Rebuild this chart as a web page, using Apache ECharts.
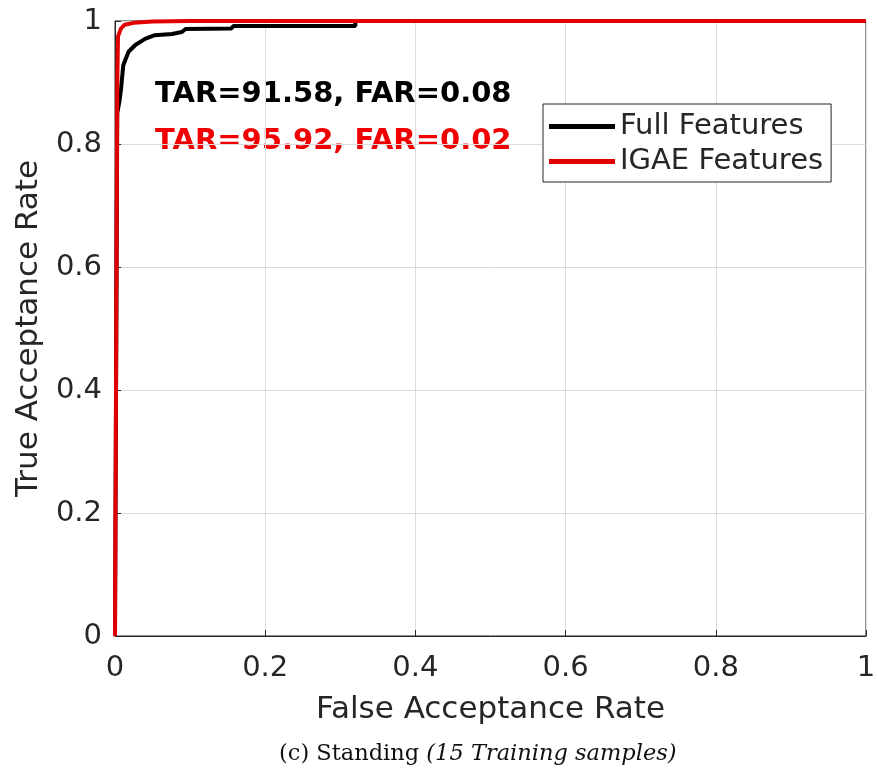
<!DOCTYPE html>
<html>
<head>
<meta charset="utf-8">
<script src="https://cdn.jsdelivr.net/npm/echarts@6/dist/echarts.min.js"></script>
<style>
html,body{margin:0;padding:0;background:#fff;}
#chart{width:877px;height:773px;}
</style>
</head>
<body>
<div id="chart"></div>
<script>
// ROC curves: false acceptance rate (x) vs true acceptance rate (y)
const seriesNames = ['Full Features', 'IGAE Features'];
const fullFar = [0, 0.002, 0.003, 0.006, 0.008, 0.011, 0.018, 0.027, 0.040, 0.053, 0.076, 0.089, 0.094, 0.155, 0.158, 0.320, 0.320, 1];
const fullTar = [0, 0.000, 0.850, 0.870, 0.889, 0.928, 0.950, 0.961, 0.971, 0.977, 0.979, 0.982, 0.987, 0.988, 0.992, 0.992, 1.000, 1];
const igaeFar = [0, 0.002, 0.003, 0.004, 0.008, 0.013, 0.025, 0.050, 0.100, 1];
const igaeTar = [0, 0.000, 0.900, 0.975, 0.988, 0.994, 0.997, 0.999, 1.000, 1];
const tickValues = [0, 0.2, 0.4, 0.6, 0.8, 1];
const noteFull = 'TAR=91.58, FAR=0.08';
const noteIgae = 'TAR=95.92, FAR=0.02';
const xName = 'False Acceptance Rate';
const yName = 'True Acceptance Rate';
const caption = ['(c) Standing ', '(15 Training samples)'];

const zip = (xs, ys) => xs.map((x, i) => [x, ys[i]]);
const axisInk = '#262626';
const labelFont = 'DejaVu Sans';

const chart = echarts.init(document.getElementById('chart'), null, {renderer: 'canvas'});

const commonAxis = {
  type: 'value', min: 0, max: 1, interval: 0.2,
  axisLine: {show: true, lineStyle: {color: axisInk, width: 1}},
  axisTick: {show: true, inside: true, length: 6, lineStyle: {color: axisInk}},
  splitLine: {show: true, lineStyle: {color: '#dcdcdc', width: 1}},
  axisLabel: {color: axisInk, fontFamily: labelFont, fontSize: 29,
    formatter: v => tickValues.includes(+v.toFixed(1)) ? String(+v.toFixed(1)) : ''},
  nameLocation: 'middle',
  nameTextStyle: {color: axisInk, fontFamily: labelFont, fontSize: 31}
};

chart.setOption({
  animation: false,
  backgroundColor: '#fff',
  grid: {left: 115, right: 11, top: 21, bottom: 137, outerBoundsMode: 'none',
    show: true, borderColor: axisInk, borderWidth: 1},
  title: {
    text: '{a|' + caption[0] + '}{b|' + caption[1] + '}',
    left: 274, top: 738,
    textStyle: {rich: {
      a: {fontFamily: 'DejaVu Serif', fontSize: 22.5, fontWeight: 'normal', color: '#111'},
      b: {fontFamily: 'DejaVu Serif', fontSize: 22.5, fontWeight: 'normal', fontStyle: 'italic', color: '#111'}
    }}
  },
  legend: {
    orient: 'vertical', left: 543, top: 104,
    padding: [8, 8, 6, 6], itemGap: 6,
    backgroundColor: '#fff', borderColor: axisInk, borderWidth: 1, borderRadius: 0,
    icon: 'rect', itemWidth: 66, itemHeight: 5,
    textStyle: {fontFamily: labelFont, fontSize: 29, color: axisInk},
    data: seriesNames
  },
  xAxis: Object.assign({}, commonAxis, {name: xName, nameGap: 58,
    axisLabel: Object.assign({}, commonAxis.axisLabel, {margin: 18})}),
  yAxis: Object.assign({}, commonAxis, {name: yName, nameGap: 71,
    axisLabel: Object.assign({}, commonAxis.axisLabel, {margin: 13})}),
  graphic: [
    {type: 'text', left: 155, top: 80, style: {text: noteFull, fill: '#000',
      font: 'bold 29px "DejaVu Sans"'}},
    {type: 'text', left: 155, top: 127, style: {text: noteIgae, fill: '#f00000',
      font: 'bold 29px "DejaVu Sans"'}}
  ],
  series: [
    {name: seriesNames[0], type: 'line', data: zip(fullFar, fullTar), showSymbol: false,
      lineStyle: {color: '#000', width: 4}, itemStyle: {color: '#000'}, z: 2},
    {name: seriesNames[1], type: 'line', data: zip(igaeFar, igaeTar), showSymbol: false,
      lineStyle: {color: '#e00000', width: 4}, itemStyle: {color: '#e00000'}, z: 3}
  ]
});
</script>
</body>
</html>
